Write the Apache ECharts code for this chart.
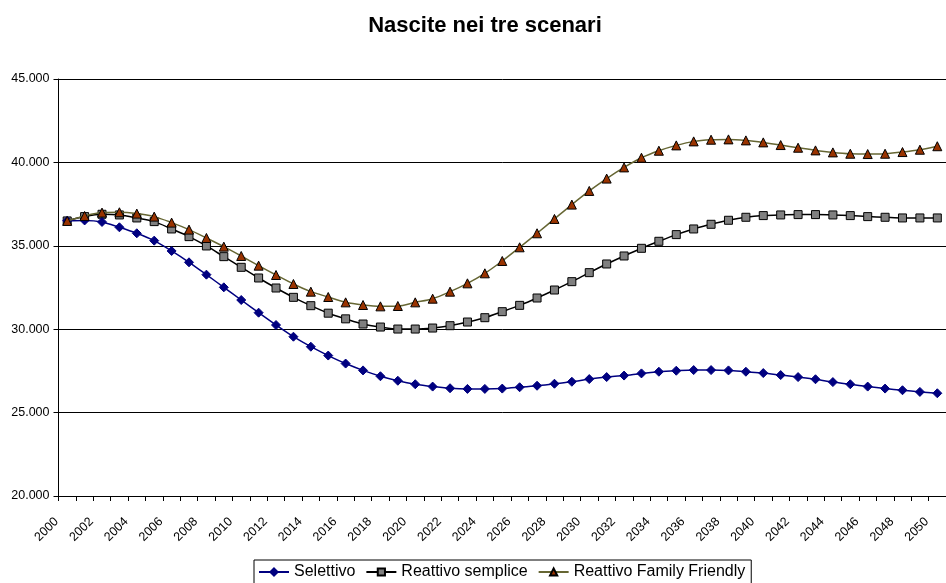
<!DOCTYPE html>
<html>
<head>
<meta charset="utf-8">
<script src="https://cdn.jsdelivr.net/npm/echarts@6/dist/echarts.min.js"></script>
<style>
  html, body { margin: 0; padding: 0; background: #fff; }
  #chart { width: 946px; height: 583px; }
</style>
</head>
<body>
<div id="chart"></div>
<script>
// Anni di proiezione 2000-2050
const anni = [];
for (let a = 2000; a <= 2050; a++) anni.push(String(a));

// Nascite annue per scenario
const selettivo = [
  36500, 36520, 36430, 36110, 35750, 35310, 34690, 34010, 33270, 32510,
  31750, 30990, 30250, 29550, 28950, 28420, 27940, 27530, 27180, 26910,
  26700, 26560, 26460, 26420, 26420, 26440, 26520, 26610, 26730, 26850,
  27010, 27130, 27220, 27350, 27450, 27510, 27550, 27550, 27530, 27450,
  27370, 27250, 27130, 27000, 26830, 26700, 26560, 26440, 26340, 26240,
  26160
];
const reattivoSemplice = [
  36490, 36750, 36890, 36850, 36670, 36450, 36010, 35550, 34990, 34350,
  33710, 33070, 32470, 31910, 31410, 30960, 30620, 30310, 30130, 30010,
  30010, 30070, 30210, 30430, 30690, 31050, 31430, 31870, 32350, 32850,
  33390, 33910, 34390, 34850, 35270, 35670, 36010, 36290, 36530, 36710,
  36810, 36850, 36870, 36870, 36850, 36810, 36750, 36710, 36670, 36670,
  36670
];
const reattivoFamily = [
  36490, 36790, 36990, 37010, 36930, 36750, 36390, 35970, 35470, 34950,
  34390, 33810, 33250, 32710, 32250, 31930, 31610, 31450, 31370, 31390,
  31610, 31830, 32250, 32750, 33350, 34090, 34910, 35750, 36610, 37470,
  38290, 39030, 39700, 40280, 40700, 41020, 41260, 41360, 41380, 41320,
  41200, 41040, 40880, 40720, 40600, 40520, 40500, 40520, 40620, 40760,
  40970
];

const nomi = ['Selettivo', 'Reattivo semplice', 'Reattivo Family Friendly'];

// Formato italiano con punto delle migliaia
function migliaia(v) {
  return String(v).replace(/\B(?=(\d{3})+(?!\d))/g, '.');
}

const font = 'Arial, "Liberation Sans", sans-serif';
const chart = echarts.init(document.getElementById('chart'), null, { renderer: 'canvas' });

chart.setOption({
  animation: false,
  backgroundColor: '#fff',
  title: {
    text: 'Nascite nei tre scenari',
    left: 480,
    top: 10,
    textAlign: 'center',
    textStyle: { fontFamily: font, fontSize: 22, fontWeight: 'bold', color: '#000' }
  },
  grid: { left: 58.5, right: -5, top: 79, bottom: 87, containLabel: false },
  legend: {
    data: nomi,
    left: 254,
    top: 560,
    orient: 'horizontal',
    borderColor: '#000',
    borderWidth: 1,
    padding: [4, 6, 4, 4],
    itemGap: 10,
    itemWidth: 30,
    itemHeight: 9,
    textStyle: { fontFamily: font, fontSize: 16, color: '#000' }
  },
  xAxis: {
    type: 'category',
    data: anni,
    boundaryGap: true,
    axisLine: { lineStyle: { color: '#000', width: 1 } },
    axisTick: { show: true, interval: 0, length: 5, lineStyle: { color: '#000' } },
    axisLabel: {
      interval: 1,
      rotate: 45,
      margin: 13,
      padding: [0, 15, 0, 0],
      fontFamily: font,
      fontSize: 12.5,
      color: '#000'
    },
    splitLine: { show: false }
  },
  yAxis: {
    type: 'value',
    min: 20000,
    max: 45000,
    interval: 5000,
    axisLine: { show: true, lineStyle: { color: '#000', width: 1 } },
    axisTick: { show: true, length: 5, lineStyle: { color: '#000' } },
    axisLabel: {
      formatter: migliaia,
      margin: 9,
      fontFamily: font,
      fontSize: 12.5,
      color: '#000'
    },
    splitLine: { show: true, lineStyle: { color: '#000', width: 1 } }
  },
  series: [
    {
      name: nomi[0],
      type: 'line',
      data: selettivo,
      smooth: 0.3,
      symbol: 'diamond',
      symbolSize: 9,
      lineStyle: { color: '#000080', width: 1.5 },
      itemStyle: { color: '#000080', borderColor: '#000080', borderWidth: 1 },
      z: 4
    },
    {
      name: nomi[1],
      type: 'line',
      data: reattivoSemplice,
      smooth: 0.3,
      symbol: 'rect',
      symbolSize: 8,
      lineStyle: { color: '#000', width: 1.5 },
      itemStyle: { color: '#808080', borderColor: '#000', borderWidth: 1 },
      z: 3
    },
    {
      name: nomi[2],
      type: 'line',
      data: reattivoFamily,
      smooth: 0.3,
      symbol: 'triangle',
      symbolSize: 9,
      lineStyle: { color: '#666633', width: 1.5 },
      itemStyle: { color: '#993300', borderColor: '#000', borderWidth: 1 },
      z: 5
    }
  ]
});
</script>
</body>
</html>
